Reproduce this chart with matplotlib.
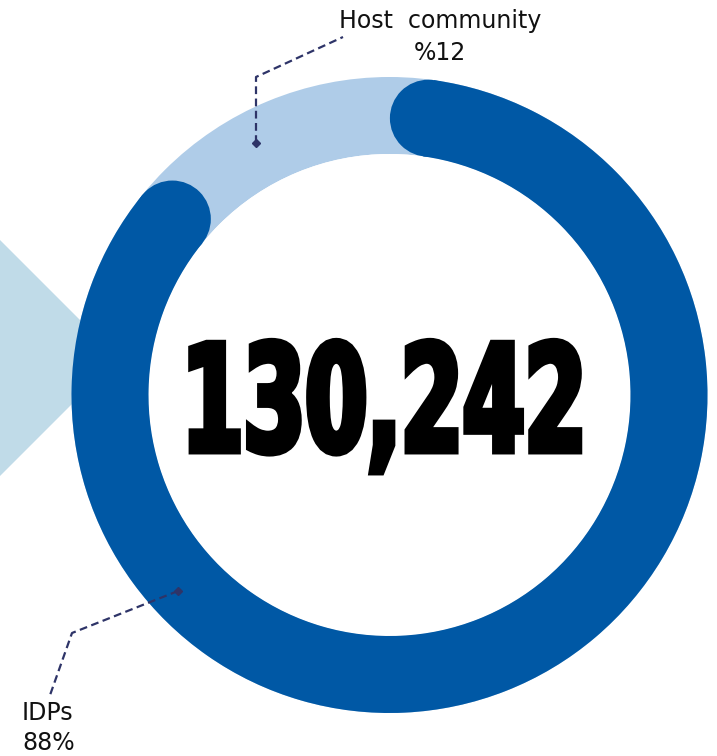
import numpy as np
import matplotlib
matplotlib.use('Agg')
import matplotlib.pyplot as plt
from matplotlib.patches import Wedge, Circle, Polygon
import matplotlib.patheffects as pe
from matplotlib.transforms import Affine2D

# data
labels = ['IDPs', 'Host community']
shares = [88, 12]
share_text = ['88%', '%12']
total = 130242

W, H = 717, 756
DARK = '#0058a5'
LIGHT = '#afcce8'
TRI = '#c0dbe8'
LEAD = '#2e3468'


class Squeeze(pe.AbstractPathEffect):
    # scale glyphs around the text anchor (display coords) and thicken them a bit
    def __init__(self, sx, sy, x0, y0, lw, color):
        super().__init__()
        self.sx, self.sy, self.x0, self.y0 = sx, sy, x0, y0
        self.lw, self.color = lw, color

    def draw_path(self, renderer, gc, tpath, affine, rgbFace=None):
        t = affine + Affine2D().translate(-self.x0, -self.y0).scale(self.sx, self.sy).translate(self.x0, self.y0)
        g = renderer.new_gc()
        g.copy_properties(gc)
        g.set_linewidth(self.lw)
        g.set_foreground(self.color)
        g.set_joinstyle('miter')
        renderer.draw_path(g, tpath, t, rgbFace)
        g.restore()


fig = plt.figure(figsize=(W / 100, H / 100), dpi=100)
ax = fig.add_axes([0, 0, 1, 1])
ax.set_xlim(0, W)
ax.set_ylim(0, H)
ax.set_aspect('equal')
ax.axis('off')

def Y(py):
    return H - py

cx, cy = 389.5, Y(395)
R, ring_w = 318, 77
rm = R - ring_w / 2

# background arrow shape on the left
ax.add_patch(Polygon([(-60, Y(180)), (118, Y(358)), (-60, Y(536))], closed=True,
                     facecolor=TRI, edgecolor='none', zorder=1))

# light full ring (host community shows through)
ax.add_patch(Wedge((cx, cy), R, 0, 360, width=ring_w, facecolor=LIGHT, edgecolor='none', zorder=2))
ax.add_patch(Circle((cx, cy), R - ring_w, facecolor='white', edgecolor='none', zorder=2))

# dark arc for IDPs with rounded ends, total length incl. caps = share
cap_deg = np.degrees((ring_w / 2) / rm)
span = shares[0] / sum(shares) * 360 - 2 * cap_deg
a_start = 82.0
a_end = a_start - span
ax.add_patch(Wedge((cx, cy), R, a_end, a_start, width=ring_w, facecolor=DARK, edgecolor='none', zorder=3))
for a in (a_start, a_end):
    t = np.radians(a)
    ax.add_patch(Circle((cx + rm * np.cos(t), cy + rm * np.sin(t)), ring_w / 2,
                        facecolor=DARK, edgecolor='none', zorder=3))

# big total in the middle
tx, ty = 384, Y(451)
txt = ax.text(tx, ty, f'{total:,}', ha='center', va='baseline', fontsize=80,
              fontweight='bold', family='DejaVu Sans', color='black', zorder=5)
x0, y0 = ax.transData.transform((tx, ty))
txt.set_path_effects([Squeeze(0.80, 1.33, x0, y0, 5, 'black')])

# leader lines
ld = dict(color=LEAD, lw=1.6, ls=(0, (3.5, 2)), zorder=6)
ax.plot([256, 256, 343], [Y(143), Y(77), Y(37)], **ld)
ax.plot([256], [Y(143)], marker='D', ms=4.5, color=LEAD, zorder=6)
ax.plot([178, 72, 49], [Y(591), Y(633), Y(698)], **ld)
ax.plot([178], [Y(591)], marker='D', ms=4.5, color=LEAD, zorder=6)

lf = dict(family='DejaVu Sans', fontsize=17, color='#111111', zorder=6)
ax.text(440, Y(21), 'Host  community', ha='center', va='center', **lf)
ax.text(440, Y(53), share_text[1], ha='center', va='center', **lf)
ax.text(22, Y(713), labels[0], ha='left', va='center', **lf)
ax.text(22, Y(743), share_text[0], ha='left', va='center', **lf)

fig.savefig('out.png', dpi=100)
